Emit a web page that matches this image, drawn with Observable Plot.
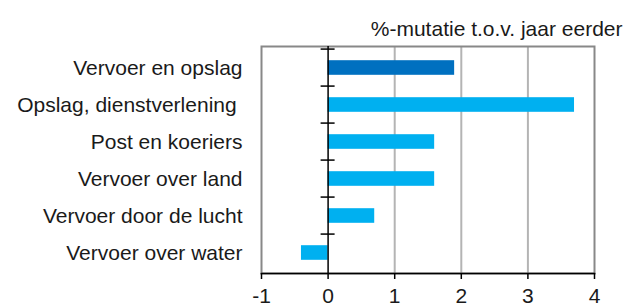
<!DOCTYPE html>
<html><head><meta charset="utf-8">
<script src="https://cdn.jsdelivr.net/npm/d3@7"></script>
<script src="https://cdn.jsdelivr.net/npm/@observablehq/plot@0.6"></script>
<style>
body{margin:0;background:#fff;}
#chart svg text{white-space:pre;}
</style></head><body><div id="chart"></div>
<script>
const categories = ["Vervoer en opslag", "Opslag, dienstverlening ", "Post en koeriers", "Vervoer over land", "Vervoer door de lucht", "Vervoer over water"];
const values = [1.9, 3.7, 1.6, 1.6, 0.7, -0.4];
const barColors = ["#0070c0", "#00b0f0", "#00b0f0", "#00b0f0", "#00b0f0", "#00b0f0"];
const xTicks = [-1, 0, 1, 2, 3, 4];
const gridTicks = [1, 2, 3];
const subtitle = "%-mutatie t.o.v. jaar eerder";

const data = categories.map((c, i) => ({category: c, value: values[i], color: barColors[i]}));

const W = 624, H = 305, mL = 261, mR = 30, mT = 46, mB = 32;
const pxPerUnit = (W - mL - mR) / (xTicks[xTicks.length - 1] - xTicks[0]);
const half = 7 / pxPerUnit;
const step = (H - mT - mB) / categories.length;

const plot = Plot.plot({
  width: W, height: H, marginLeft: mL, marginRight: mR, marginTop: mT, marginBottom: mB,
  style: {fontFamily: "'Liberation Sans', Arial, sans-serif", fontSize: "21px", color: "#1a1a1a", background: "#fff"},
  x: {domain: [xTicks[0], xTicks[xTicks.length - 1]], axis: null},
  y: {domain: categories, padding: 0, axis: null},
  marks: [
    Plot.ruleX(gridTicks, {stroke: "#b4b4b4", strokeWidth: 2}),
    Plot.frame({stroke: "#888888", strokeWidth: 2}),
    Plot.barX(data, {x: "value", y: "category", fill: "color", insetTop: 11.2, insetBottom: 11.2}),
    Plot.ruleX([0], {stroke: "#000", strokeWidth: 1.5}),
    Plot.ruleY(categories, {y: d => d, x1: -half, x2: half, dy: -step / 2, stroke: "#000", strokeWidth: 1.5}),
    Plot.frame({anchor: "bottom", stroke: "#000", strokeWidth: 1.5}),
    Plot.axisX({ticks: xTicks, tickSize: 6, tickPadding: 9, tickFormat: d => String(d), stroke: "#000", strokeWidth: 1.5, fontSize: 21, label: null}),
    Plot.axisY({tickSize: 0, tickPadding: 19, fontSize: 21, label: null}),
    Plot.text([subtitle], {frameAnchor: "top-right", dx: 28, dy: -25, textAnchor: "end", fontSize: 21})
  ]
});
document.getElementById("chart").appendChild(plot);
</script></body></html>
